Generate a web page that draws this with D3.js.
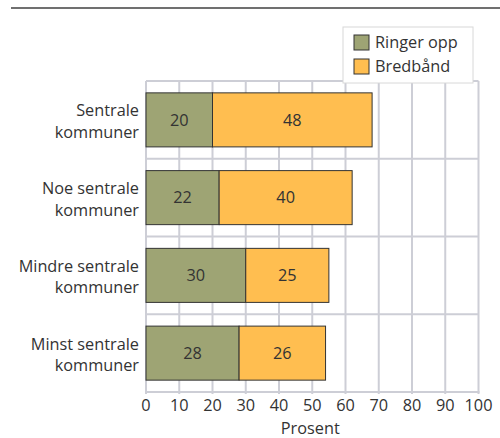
<!DOCTYPE html>
<html lang="no">
<head>
<meta charset="utf-8">
<script src="https://d3js.org/d3.v7.min.js"></script>
<style>
    body { margin: 0; background: #fff; font-family: "Open Sans", sans-serif; }
</style>
</head>
<body>
<div id="chart"></div>
<script>
// data
var categories = [["Sentrale", "kommuner"], ["Noe sentrale", "kommuner"], ["Mindre sentrale", "kommuner"], ["Minst sentrale", "kommuner"]];
var ringerOpp = [20, 22, 30, 28];
var bredband = [48, 40, 25, 26];
var seriesNames = ["Ringer opp", "Bredbånd"];
var seriesColors = ["#9ea474", "#ffbe50"];
var xTicks = [0, 10, 20, 30, 40, 50, 60, 70, 80, 90, 100];

var W = 500, H = 438;
var margin = { top: 81, right: 21.5, bottom: 46, left: 146 };
var width = W - margin.left - margin.right,
    height = H - margin.top - margin.bottom;
var fs = 16.3;

var svg = d3.select("#chart").append("svg")
    .attr("width", W).attr("height", H);

// rule at the top
svg.append("line")
    .attr("x1", 11).attr("x2", W).attr("y1", 8).attr("y2", 8)
    .attr("stroke", "#707070").attr("stroke-width", 2);

var g = svg.append("g")
    .attr("transform", "translate(" + margin.left + "," + margin.top + ")");

var x = d3.scaleLinear().domain([0, 100]).range([0, width]);
var y = d3.scaleBand().domain(d3.range(categories.length)).range([0, height]).padding(0);
var barH = y.bandwidth() * 0.695;

var gridColor = "#cdced6";

// vertical grid
g.selectAll(".vgrid").data(xTicks).enter().append("line")
    .attr("x1", d => x(d)).attr("x2", d => x(d))
    .attr("y1", 0).attr("y2", height + 2)
    .attr("stroke", gridColor).attr("stroke-width", 2);

// horizontal separators (top + between bands)
g.selectAll(".hgrid").data(d3.range(categories.length)).enter().append("line")
    .attr("x1", 0).attr("x2", width)
    .attr("y1", d => y(d)).attr("y2", d => y(d))
    .attr("stroke", gridColor).attr("stroke-width", 2);

// bottom axis line
g.append("line")
    .attr("x1", 0).attr("x2", width + 1)
    .attr("y1", height).attr("y2", height)
    .attr("stroke", gridColor).attr("stroke-width", 2);

// bars
var rows = categories.map(function(c, i) {
    return { i: i, a: ringerOpp[i], b: bredband[i] };
});

var bars = g.selectAll(".row").data(rows).enter().append("g")
    .attr("transform", d => "translate(0," + (y(d.i) + (y.bandwidth() - barH) / 2) + ")");

bars.append("rect")
    .attr("x", x(0)).attr("width", d => x(d.a) - x(0)).attr("height", barH)
    .attr("fill", seriesColors[0]).attr("stroke", "#333").attr("stroke-width", 1);
bars.append("rect")
    .attr("x", d => x(d.a)).attr("width", d => x(d.a + d.b) - x(d.a)).attr("height", barH)
    .attr("fill", seriesColors[1]).attr("stroke", "#333").attr("stroke-width", 1);

bars.append("text")
    .attr("x", d => x(d.a / 2)).attr("y", barH / 2).attr("dy", "0.36em")
    .attr("text-anchor", "middle").attr("font-size", fs).attr("fill", "#333")
    .text(d => d.a);
bars.append("text")
    .attr("x", d => x(d.a + d.b / 2)).attr("y", barH / 2).attr("dy", "0.36em")
    .attr("text-anchor", "middle").attr("font-size", fs).attr("fill", "#333")
    .text(d => d.b);

// category labels
var cat = g.selectAll(".cat").data(categories).enter().append("text")
    .attr("x", -7)
    .attr("y", (d, i) => y(i) + y.bandwidth() / 2)
    .attr("text-anchor", "end").attr("font-size", fs).attr("fill", "#333");
cat.append("tspan").attr("x", -7).attr("dy", "-0.22em").text(d => d[0]);
cat.append("tspan").attr("x", -7).attr("dy", "1.32em").text(d => d[1]);

// x tick labels
g.selectAll(".tick").data(xTicks).enter().append("text")
    .attr("x", d => x(d)).attr("y", height + 19)
    .attr("text-anchor", "middle").attr("font-size", fs).attr("fill", "#333")
    .text(d => d);

g.append("text")
    .attr("x", width / 2 - 2).attr("y", height + 41.5)
    .attr("text-anchor", "middle").attr("font-size", fs).attr("fill", "#333")
    .text("Prosent");

// legend
var leg = svg.append("g").attr("transform", "translate(343,27)");
leg.append("rect").attr("width", 130).attr("height", 56)
    .attr("fill", "#fff").attr("stroke", "#d8d8d8").attr("stroke-width", 1);
seriesNames.forEach(function(n, i) {
    leg.append("rect").attr("x", 11).attr("y", 8 + i * 24).attr("width", 15).attr("height", 15)
        .attr("fill", seriesColors[i]).attr("stroke", "#333").attr("stroke-width", 1);
    leg.append("text").attr("x", 32).attr("y", 15 + i * 24).attr("dy", "0.36em")
        .attr("font-size", fs).attr("fill", "#333").text(n);
});
</script>
</body>
</html>
